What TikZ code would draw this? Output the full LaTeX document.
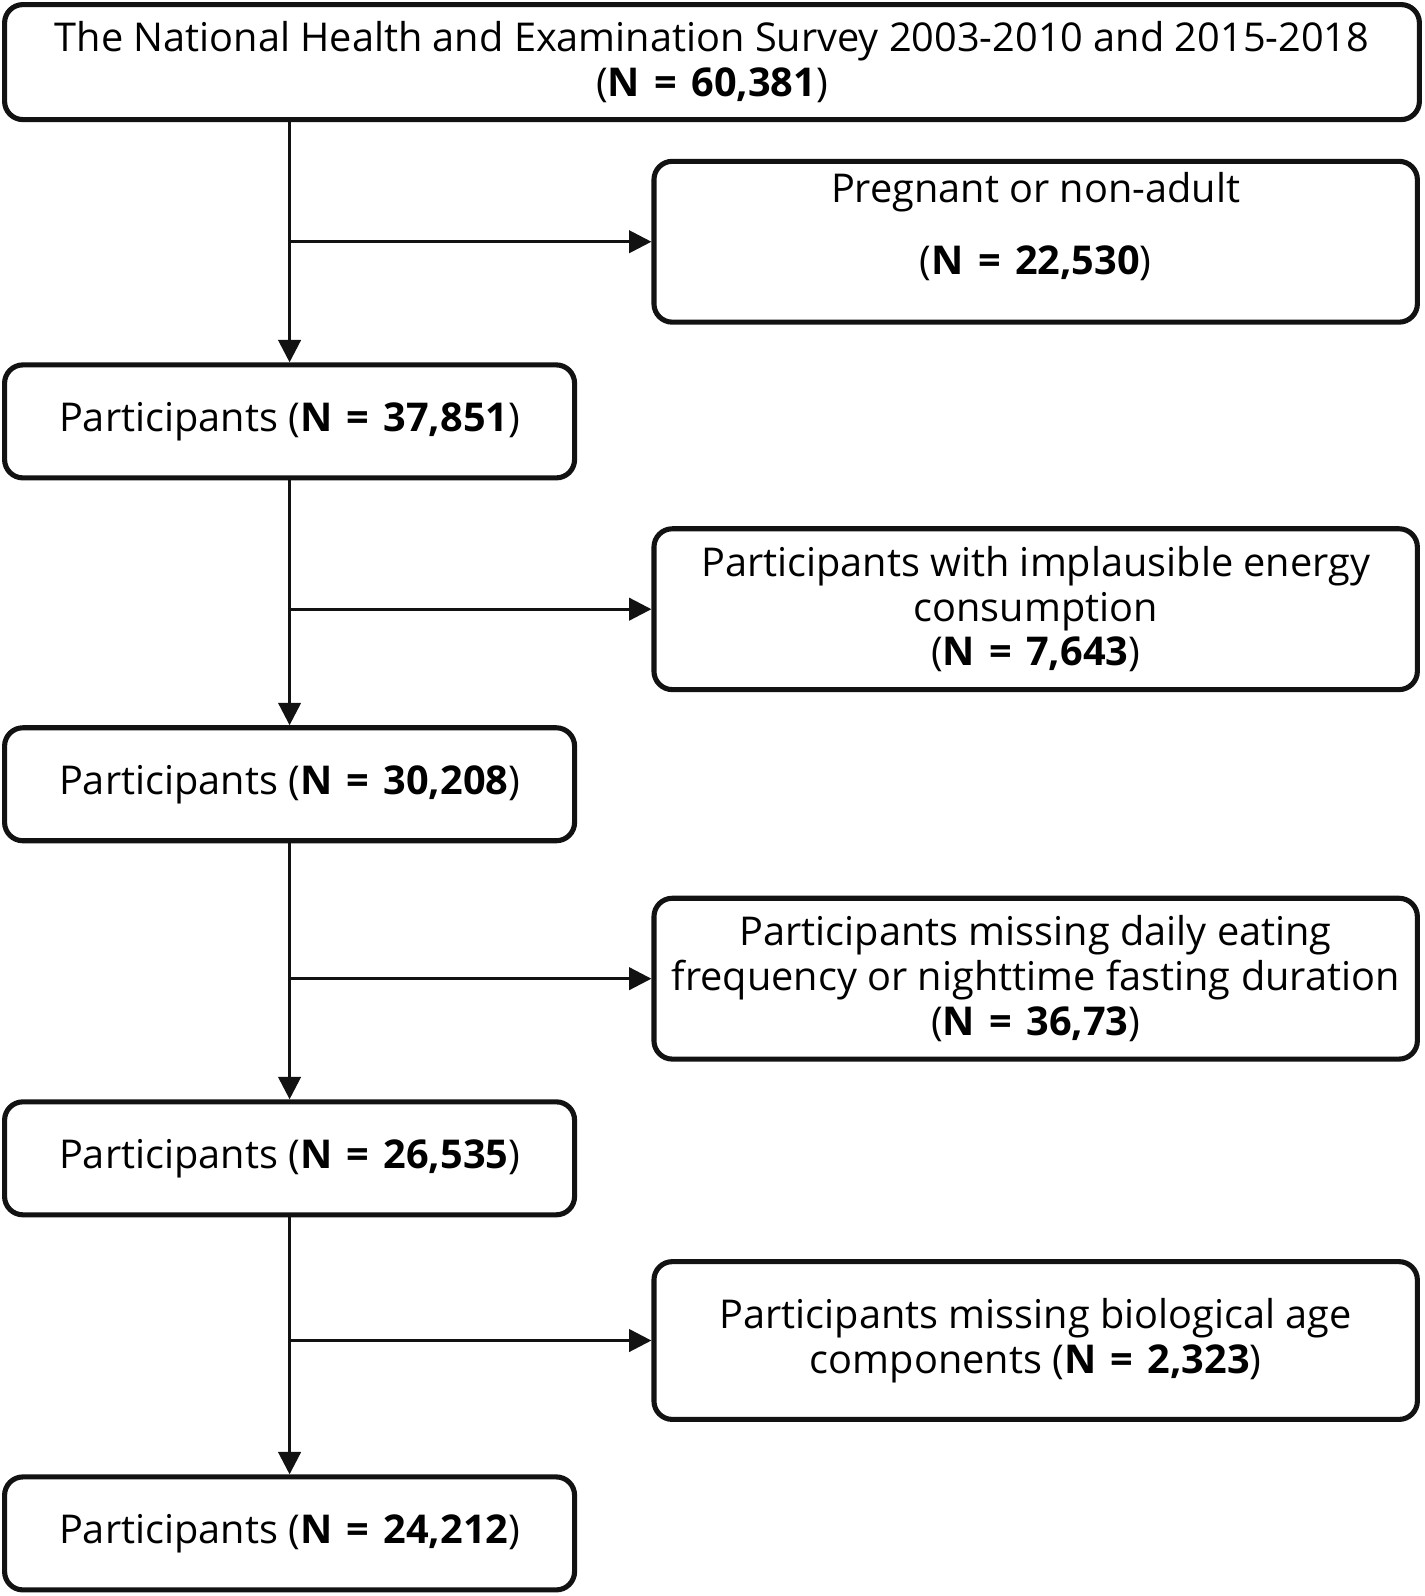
\documentclass[tikz,border=0pt]{standalone}
\usepackage{fontspec}
\setmainfont{Open Sans}
\usetikzlibrary{arrows.meta}
\newcommand{\nval}[1]{\textbf{N\hspace{0.36em}=\hspace{0.36em}#1}}

\begin{document}
\begin{tikzpicture}[x=0.5pt,y=-0.5pt,
		box/.style={draw=black!93, line width=2.5pt, rounded corners=9pt, align=center, inner sep=0pt, font=\fontsize{19.5}{22}\selectfont},
		wide/.style={box, minimum width=695pt, minimum height=56.5pt},
		side/.style={box, minimum width=375pt, minimum height=79pt},
		main/.style={box, minimum width=280pt, minimum height=55.5pt},
		flow/.style={draw=black!93, line width=1.5pt, -{Triangle[length=11pt,width=11pt]}}]
		\useasboundingbox (0,0) rectangle (1400,1568);
		% boxes
		\node [wide] (top) at (699.5, 61) {The National Health and Examination Survey 2003-2010 and 2015-2018\\(\nval{60,381})};
		\node [main] (p1) at (284.5, 414) {Participants (\nval{37,851})};
		\node [main] (p2) at (284.5, 770.5) {Participants (\nval{30,208})};
		\node [main] (p3) at (284.5, 1138) {Participants (\nval{26,535})};
		\node [main] (p4) at (284.5, 1506.5) {Participants (\nval{24,212})};
		\node [side] (ex1) at (1017.5, 237.5) {Pregnant or non-adult\\[13.5pt](\nval{22,530})\rule[-18pt]{0pt}{0pt}};
		\node [side] (ex2) at (1017.5, 598.5) {Participants with implausible energy\\consumption\\(\nval{7,643})};
		\node [side] (ex3) at (1017.5, 961.5) {Participants missing daily eating\\frequency or nighttime fasting duration\\(\nval{36,73})};
		\node [side, minimum height=77.5pt] (ex4) at (1017.5, 1317) {Participants missing biological age\\components (\nval{2,323})};
		% main line
		\coordinate (s0) at (top.south -| p1.north);
		\draw [flow] (s0) -- (p1);
		\draw [flow] (p1) -- (p2);
		\draw [flow] (p2) -- (p3);
		\draw [flow] (p3) -- (p4);
		% exclusions
		\coordinate (j1) at (ex1.west -| p1.north);
		\coordinate (j2) at (ex2.west -| p1.north);
		\coordinate (j3) at (ex3.west -| p1.north);
		\coordinate (j4) at (ex4.west -| p1.north);
		\draw [flow] (j1) -- (ex1);
		\draw [flow] (j2) -- (ex2);
		\draw [flow] (j3) -- (ex3);
		\draw [flow] (j4) -- (ex4);
	\end{tikzpicture}
\end{document}
